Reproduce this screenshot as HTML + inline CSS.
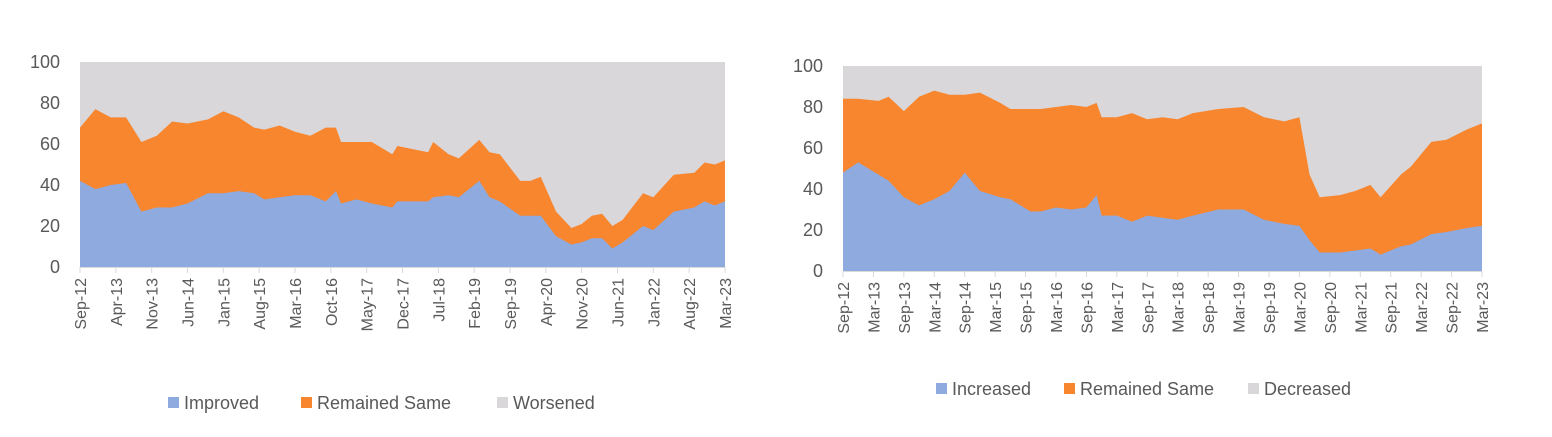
<!DOCTYPE html>
<html><head><meta charset="utf-8"><style>
html,body{margin:0;padding:0;background:#fff;}
svg{display:block;font-family:"Liberation Sans",sans-serif;}
</style></head><body>
<svg id="c" width="1552" height="437"></svg>
<script>
// Left chart data
const leftMonths=[0,3,6,9,12,15,18,21,25,28,31,34,36,39,42,45,48,50,51,54,57,61,62,68,69,72,74,78,80,82,86,88,90,93,96,98,100,102,104,106,110,112,116,120,122,124,126];
const leftImproved=[42,38,40,41,27,29,29,31,36,36,37,36,33,34,35,35,32,37,31,33,31,29,32,32,34,35,34,42,34,32,25,25,25,15,11,12,14,14,9,12,20,18,27,29,32,30,32];
const leftSame=[26,39,33,32,34,35,42,39,36,40,36,32,34,35,31,29,36,31,30,28,30,26,27,24,27,20,19,20,22,23,17,17,19,12,8,9,11,12,11,11,16,16,18,17,19,20,20];
const leftTicks=["Sep-12","Apr-13","Nov-13","Jun-14","Jan-15","Aug-15","Mar-16","Oct-16","May-17","Dec-17","Jul-18","Feb-19","Sep-19","Apr-20","Nov-20","Jun-21","Jan-22","Aug-22","Mar-23"];
const leftLegend=["Improved","Remained Same","Worsened"];
// Right chart data
const rightMonths=[0,3,7,9,12,15,18,21,24,27,31,33,37,39,42,45,48,50,51,54,57,60,63,66,69,74,79,83,87,90,92,94,98,101,104,106,110,112,116,119,123,126];
const rightIncreased=[48,53,47,44,36,32,35,39,48,39,36,35,29,29,31,30,31,37,27,27,24,27,26,25,27,30,30,25,23,22,15,9,9,10,11,8,12,13,18,19,21,22];
const rightSame=[36,31,36,41,42,53,53,47,38,48,46,44,50,50,49,51,49,45,48,48,53,47,49,49,50,49,50,50,50,53,32,27,28,29,31,28,35,38,45,45,48,50];
const rightTicks=["Sep-12","Mar-13","Sep-13","Mar-14","Sep-14","Mar-15","Sep-15","Mar-16","Sep-16","Mar-17","Sep-17","Mar-18","Sep-18","Mar-19","Sep-19","Mar-20","Sep-20","Mar-21","Sep-21","Mar-22","Sep-22","Mar-23"];
const rightLegend=["Increased","Remained Same","Decreased"];
const yTicks=[0,20,40,60,80,100];
const totalMonths=126;

const NS="http://www.w3.org/2000/svg";
const svg=document.getElementById('c');
const COLORS=["#8eaadf","#f7862f","#d9d7d9"];
function mk(tag,attrs,parent){const e=document.createElementNS(NS,tag);for(const k in attrs)e.setAttribute(k,attrs[k]);(parent||svg).appendChild(e);return e;}

function drawChart(o){
  const g=mk('g',{});
  
  
  const xs=m=>o.x0+(o.x1-o.x0)*m/totalMonths;
  const ys=v=>o.y1-(o.y1-o.y0)*v/100;
  const bg=mk('rect',{x:o.x0,y:o.y0,width:o.x1-o.x0,height:o.y1-o.y0,fill:COLORS[2]},g);
  
  
  let top=o.months.map((m,i)=>[xs(m),ys(o.a[i]+o.b[i])]);
  let bot=o.months.map((m,i)=>[xs(m),ys(o.a[i])]);
  let d='M'+top.map(p=>p.join(',')).join('L')+'L'+xs(o.months[o.months.length-1])+','+ys(0)+'L'+xs(o.months[0])+','+ys(0)+'Z';
  const s=mk('path',{d:d,fill:COLORS[1]},g);
  
  
  let d2='M'+bot.map(p=>p.join(',')).join('L')+'L'+xs(o.months[o.months.length-1])+','+ys(0)+'L'+xs(o.months[0])+','+ys(0)+'Z';
  const a=mk('path',{d:d2,fill:COLORS[0]},g);
  
  
  const ax=mk('line',{x1:o.x0,x2:o.x1,y1:o.y1+0.5,y2:o.y1+0.5,stroke:'#d9d9d9','stroke-width':1},g);
  
  
  yTicks.forEach(v=>{
    const t=mk('text',{x:o.x0-20,y:ys(v)+6,'text-anchor':'end','font-size':18,fill:'#595959'},g);
    t.textContent=v;
    
    
  });
  o.ticks.forEach((lab,i)=>{
    const m=i*o.step;
    const x=xs(m);
    const tk=mk('line',{x1:x,x2:x,y1:o.y1,y2:o.y1+6,stroke:'#d9d9d9'},g);
    
    
    const t=mk('text',{x:0,y:0,'text-anchor':'end','font-size':16,fill:'#595959',transform:`translate(${x+6},${o.y1+11}) rotate(-90)`},g);
    t.textContent=lab;
    
    
  });
  o.legend.forEach((lab,i)=>{
    const lg=mk('g',{},g);
    
    
    mk('rect',{x:o.lx[i],y:o.ly-6,width:11,height:11,fill:COLORS[i]},lg);
    const t=mk('text',{x:o.lx[i]+16,y:o.ly+6,'font-size':18,fill:'#595959'},lg);
    t.textContent=lab;
  });
}
drawChart({name:'left-chart',x0:80,x1:725,y0:62,y1:267,months:leftMonths,a:leftImproved,b:leftSame,ticks:leftTicks,step:7,legend:leftLegend,names:['improved','remained-same','worsened'],lx:[168,301,497],ly:403});
drawChart({name:'right-chart',x0:843,x1:1482,y0:66,y1:271,months:rightMonths,a:rightIncreased,b:rightSame,ticks:rightTicks,step:6,legend:rightLegend,names:['increased','remained-same','decreased'],lx:[936,1064,1248],ly:389});
</script>
</body></html>
